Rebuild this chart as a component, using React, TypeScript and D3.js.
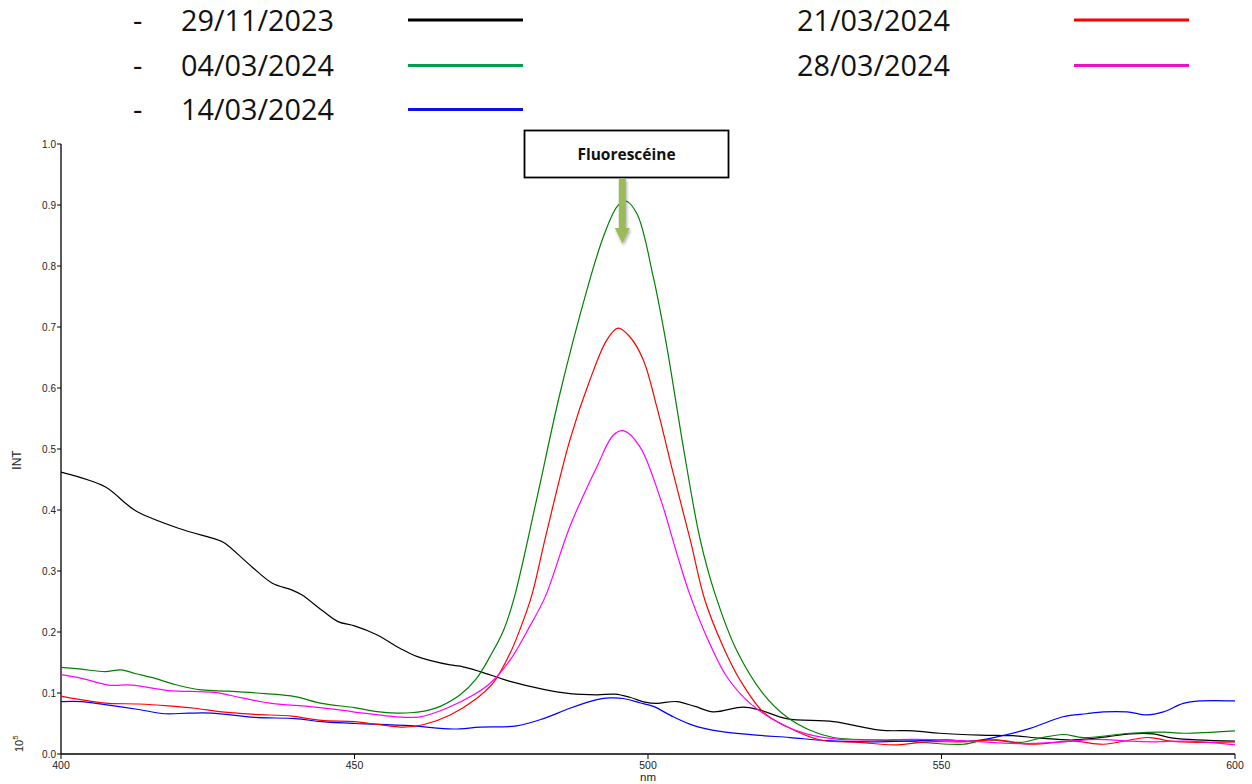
import React from "react";
import * as d3 from "d3";

// ---- Data ----
const seriesNames = ["29/11/2023", "04/03/2024", "14/03/2024", "21/03/2024", "28/03/2024"];
const seriesColors = ["#000000", "#008000", "#0000ff", "#ff0000", "#ff00ff"];
const legendColors = ["#000000", "#00a050", "#0a10e8", "#ff0000", "#ee10c8"];

const blackNm = [400, 407.5, 411, 413, 420, 427, 428, 432.5, 436, 439.3, 441, 444.4, 447.2, 450, 453.7, 457.8, 460.6, 466.3, 468, 471.4, 476.5, 482.2, 486.7, 491.3, 494.4, 496.9, 499.5, 501.5, 504.9, 508, 511.1, 516.2, 519.1, 523.6, 531.6, 539.5, 545.2, 549.7, 556.6, 562.2, 566.8, 572.5, 578.1, 582.1, 586.1, 589.5, 600];
const blackVal = [0.462, 0.438, 0.411, 0.397, 0.37, 0.35, 0.345, 0.307, 0.28, 0.269, 0.261, 0.236, 0.217, 0.21, 0.196, 0.173, 0.16, 0.146, 0.144, 0.135, 0.119, 0.106, 0.099, 0.097, 0.098, 0.093, 0.085, 0.083, 0.086, 0.078, 0.069, 0.077, 0.072, 0.058, 0.053, 0.039, 0.038, 0.034, 0.031, 0.03, 0.026, 0.023, 0.028, 0.033, 0.033, 0.026, 0.021];

const greenNm = [400, 403.5, 407.5, 410.3, 412.6, 416, 419.4, 424, 428.5, 434.8, 439.9, 444.4, 450, 453.5, 457.2, 460, 462.3, 464.6, 468, 470.8, 473.1, 475.4, 477.2, 481, 485, 489.6, 492.4, 494.7, 496.1, 498.1, 500.9, 503.2, 506, 508.9, 511.5, 515.1, 519.6, 523.6, 527.6, 531.6, 538.4, 544.1, 548, 553.7, 557.7, 563.4, 566.8, 570.7, 574.2, 582.1, 587.8, 591.2, 600];
const greenVal = [0.142, 0.139, 0.135, 0.138, 0.132, 0.124, 0.114, 0.105, 0.103, 0.099, 0.094, 0.083, 0.076, 0.07, 0.067, 0.068, 0.071, 0.078, 0.097, 0.124, 0.16, 0.203, 0.256, 0.416, 0.591, 0.761, 0.848, 0.897, 0.907, 0.886, 0.782, 0.668, 0.504, 0.351, 0.26, 0.17, 0.099, 0.061, 0.039, 0.027, 0.023, 0.021, 0.018, 0.016, 0.023, 0.019, 0.026, 0.032, 0.027, 0.034, 0.036, 0.034, 0.038];

const blueNm = [400, 403.5, 407.5, 413.2, 417.7, 421.7, 425.7, 433, 439.9, 444.4, 450, 453.5, 460, 466.8, 471.4, 477.6, 482.2, 486.7, 491.3, 493.5, 495.8, 498.6, 500.9, 504.3, 507.7, 512.3, 518.5, 524.2, 530.4, 538.4, 546.4, 551, 554.8, 559.4, 565.1, 570.7, 574.7, 577.6, 581.6, 585, 587.8, 591.2, 594, 600];
const blueVal = [0.086, 0.086, 0.081, 0.073, 0.066, 0.067, 0.067, 0.06, 0.058, 0.053, 0.05, 0.049, 0.046, 0.041, 0.044, 0.046, 0.058, 0.075, 0.089, 0.092, 0.091, 0.084, 0.078, 0.061, 0.047, 0.037, 0.031, 0.027, 0.022, 0.02, 0.022, 0.023, 0.021, 0.028, 0.042, 0.061, 0.066, 0.069, 0.069, 0.064, 0.069, 0.083, 0.087, 0.087];

const redNm = [400, 404.7, 408.1, 413.2, 418.3, 422.8, 427.4, 433, 439.3, 444.4, 450, 454.3, 458.3, 461.7, 466.3, 470.8, 473.6, 476.5, 478.8, 480.2, 482.7, 486.7, 490.1, 493, 494.9, 496.9, 499.2, 501.5, 504.3, 507.2, 509.7, 512.8, 515.7, 519.6, 523.6, 529.3, 536.1, 541.8, 547.5, 553.5, 559.4, 565.1, 572.5, 577.6, 582.1, 585.5, 589, 593.5, 600];
const redVal = [0.095, 0.087, 0.083, 0.082, 0.079, 0.075, 0.069, 0.065, 0.062, 0.055, 0.053, 0.048, 0.044, 0.048, 0.064, 0.091, 0.116, 0.165, 0.22, 0.26, 0.362, 0.515, 0.613, 0.679, 0.698, 0.684, 0.646, 0.569, 0.46, 0.351, 0.252, 0.176, 0.121, 0.069, 0.045, 0.023, 0.019, 0.015, 0.02, 0.02, 0.023, 0.016, 0.021, 0.016, 0.023, 0.027, 0.021, 0.019, 0.02];

const magentaNm = [400, 403.5, 408.1, 412, 418.3, 426.2, 430.8, 435.9, 442.1, 446, 448.4, 451.5, 457.2, 461.2, 465.7, 470.3, 473.1, 476.5, 479.9, 482.5, 486.7, 491.3, 494.1, 495.8, 498.6, 502, 504.9, 507, 510, 513.4, 517.4, 522.5, 527, 532.7, 538.4, 545.2, 553, 563.4, 570.7, 576.4, 582.1, 586.1, 592.4, 600];
const magentaVal = [0.13, 0.124, 0.113, 0.113, 0.104, 0.101, 0.092, 0.083, 0.078, 0.074, 0.071, 0.067, 0.061, 0.061, 0.075, 0.097, 0.116, 0.154, 0.21, 0.258, 0.373, 0.471, 0.523, 0.53, 0.504, 0.422, 0.329, 0.265, 0.192, 0.127, 0.083, 0.05, 0.033, 0.024, 0.023, 0.024, 0.022, 0.017, 0.02, 0.024, 0.021, 0.02, 0.021, 0.015];

const xTicks = [400, 450, 500, 550, 600];
const yTicks = [0, 0.1, 0.2, 0.3, 0.4, 0.5, 0.6, 0.7, 0.8, 0.9, 1.0];
const annotationText = "Fluorescéine";
const annotationNm = 495.8;

const seriesData = [
  { nm: blackNm, val: blackVal },
  { nm: greenNm, val: greenVal },
  { nm: blueNm, val: blueVal },
  { nm: redNm, val: redVal },
  { nm: magentaNm, val: magentaVal },
];

export default function App() {
  const W = 1252, H = 784;
  const x = d3.scaleLinear().domain([400, 600]).range([61, 1235]);
  const y = d3.scaleLinear().domain([0, 1]).range([754, 144]);
  const line = d3
    .line<[number, number]>()
    .x((d) => x(d[0]))
    .y((d) => y(d[1]))
    .curve(d3.curveCatmullRom.alpha(0.5));

  const legendFont = "'Open Sans', 'Noto Sans', sans-serif";
  const axisFont = "'Liberation Sans', Arial, sans-serif";

  const legendRows = [
    { i: 0, col: 0, row: 0 },
    { i: 1, col: 0, row: 1 },
    { i: 2, col: 0, row: 2 },
    { i: 3, col: 1, row: 0 },
    { i: 4, col: 1, row: 1 },
  ];
  const rowY = [20, 65.5, 109.5];

  const ax = x(annotationNm) - 1;

  return (
    <svg
      width={W}
      height={H}
      style={{ position: "absolute", left: 0, top: 0, background: "#fff" }}
    >
      <defs>
        <filter id="shadow" x="-50%" y="-20%" width="200%" height="150%">
          <feGaussianBlur in="SourceAlpha" stdDeviation="1.5" />
          <feOffset dx="1" dy="2" result="ob" />
          <feComponentTransfer>
            <feFuncA type="linear" slope="0.35" />
          </feComponentTransfer>
          <feMerge>
            <feMergeNode />
            <feMergeNode in="SourceGraphic" />
          </feMerge>
        </filter>
      </defs>

      {/* Legend */}
      {legendRows.map(({ i, col, row }) => {
        const cy = rowY[row];
        const textX = col === 0 ? 181 : 797;
        const lx1 = col === 0 ? 408 : 1074;
        const lx2 = col === 0 ? 523 : 1189;
        return (
          <g key={i}>
            {col === 0 && (
              <text x={133} y={cy + 10.5} fontFamily={legendFont} fontSize={29} fill="#111">
                -
              </text>
            )}
            <text x={textX} y={cy + 10.5} fontFamily={legendFont} fontSize={28.8} fill="#111">
              {seriesNames[i]}
            </text>
            <line x1={lx1} x2={lx2} y1={cy} y2={cy} stroke={legendColors[i]} strokeWidth={3.2} />
          </g>
        );
      })}

      {/* Axes */}
      <line x1={61} x2={61} y1={144} y2={754} stroke="#000" strokeWidth={1.3} />
      <line x1={61} x2={1235} y1={754} y2={754} stroke="#000" strokeWidth={1.3} />
      {yTicks.map((t) => (
        <g key={"y" + t}>
          <line x1={57} x2={61} y1={y(t)} y2={y(t)} stroke="#000" strokeWidth={1} />
          <text
            x={56}
            y={y(t) + 3.5}
            textAnchor="end"
            fontFamily={axisFont}
            fontSize={10}
            fill="#222"
          >
            {t.toFixed(1)}
          </text>
        </g>
      ))}
      {xTicks.map((t) => (
        <g key={"x" + t}>
          <line x1={x(t)} x2={x(t)} y1={754} y2={759} stroke="#000" strokeWidth={1} />
          <text
            x={x(t)}
            y={769}
            textAnchor="middle"
            fontFamily={axisFont}
            fontSize={10.5}
            fill="#222"
          >
            {t}
          </text>
        </g>
      ))}
      <text x={x(500)} y={781} textAnchor="middle" fontFamily={axisFont} fontSize={11.5} fill="#222">
        nm
      </text>
      <text
        transform={`translate(21,460) rotate(-90)`}
        textAnchor="middle"
        fontFamily={axisFont}
        fontSize={12}
        fill="#222"
      >
        INT
      </text>
      <text
        transform={`translate(23,752) rotate(-90)`}
        textAnchor="start"
        fontFamily={axisFont}
        fontSize={11}
        fill="#222"
      >
        10
        <tspan dy={-5} fontSize={8}>
          5
        </tspan>
      </text>

      {/* Series */}
      {seriesData.map((s, i) => {
        const pts = s.nm.map((n, k) => [n, s.val[k]] as [number, number]);
        return (
          <path
            key={i}
            d={line(pts) || ""}
            fill="none"
            stroke={seriesColors[i]}
            strokeWidth={1.2}
          />
        );
      })}

      {/* Annotation */}
      <rect x={524.5} y={130.5} width={204} height={47} fill="#fff" stroke="#000" strokeWidth={1.8} />
      <text
        x={626.5}
        y={159.5}
        textAnchor="middle"
        fontFamily={legendFont}
        fontWeight="bold"
        fontSize={15.5}
        fill="#111"
      >
        {annotationText}
      </text>
      <g filter="url(#shadow)">
        <path
          d={`M${ax - 3.5},178.5 L${ax + 3.5},178.5 L${ax + 3.5},228 L${ax + 7.5},228 L${ax},243.5 L${ax - 7.5},228 L${ax - 3.5},228 Z`}
          fill="#9bbb59"
        />
      </g>
    </svg>
  );
}
